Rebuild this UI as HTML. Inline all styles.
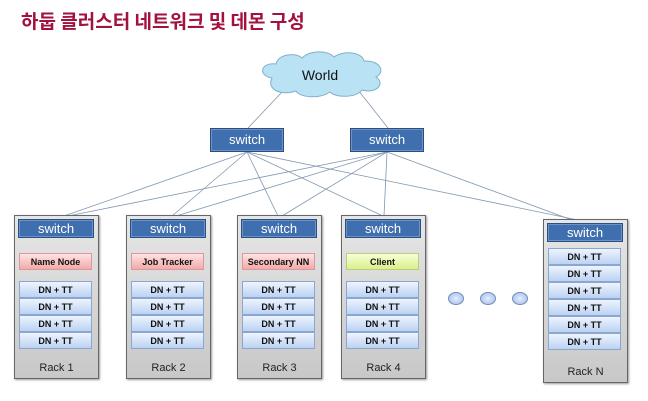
<!DOCTYPE html>
<html><head><meta charset="utf-8"><style>
body{margin:0;background:#fff;width:648px;height:401px;position:relative;overflow:hidden;font-family:"Liberation Sans","Noto Sans CJK KR",sans-serif}
.t{position:absolute;left:21px;top:7px;font-size:19px;font-weight:bold;color:#a3123f;font-family:"Noto Sans CJK KR","NanumGothic",sans-serif;white-space:nowrap}
.rack{position:absolute;background:linear-gradient(#e6e6e6,#c8c8c8);border:1px solid #666;box-shadow:1px 1px 2px #999}
.sw{position:absolute;background:#3f6fae;border:1px solid #2b4f80;color:#fff;text-align:center;font-size:13px;box-shadow:inset 0 0 0 1px #6d92c4}
.box{position:absolute;left:4px;width:73px;height:17px;border:1px solid #8aa7d0;background:linear-gradient(#eef4ff,#bcd2f2);font-size:9px;font-weight:bold;text-align:center;line-height:17px;color:#111;box-sizing:border-box}
.lab{position:absolute;left:0;width:100%;text-align:center;font-size:11px;color:#222}
.dot{position:absolute;width:14px;height:11px;border-radius:50%;background:radial-gradient(#e4eeff,#9fbbe6);border:1px solid #6f8fbf}
</style></head><body>
<div class="t">하둡 클러스터 네트워크 및 데몬 구성</div>
<svg width="648" height="401" style="position:absolute;left:0;top:0">
<g stroke="#7f97b0" stroke-width="0.8" fill="none">
<line x1="282" y1="92" x2="248" y2="128"/><line x1="358" y1="90" x2="388" y2="128"/>
<line x1="247" y1="152" x2="64" y2="216"/><line x1="247" y1="152" x2="172" y2="216"/><line x1="247" y1="152" x2="278" y2="216"/><line x1="247" y1="152" x2="383" y2="216"/><line x1="247" y1="152" x2="578" y2="220"/>
<line x1="387" y1="152" x2="68" y2="216"/><line x1="387" y1="152" x2="176" y2="216"/><line x1="387" y1="152" x2="282" y2="216"/><line x1="387" y1="152" x2="384" y2="216"/><line x1="387" y1="152" x2="572" y2="220"/>
</g>
<path d="M272 78 C258 76 260 62 276 64 C278 54 296 52 302 58 C310 50 328 50 334 57 C344 50 362 52 364 61 C380 60 386 72 376 77 C386 84 376 94 362 90 C356 98 336 98 330 92 C320 99 300 98 296 91 C282 96 266 90 272 78Z" fill="#b9e2f5" stroke="#7fb0cc"/>
<text x="320" y="80" font-size="14" text-anchor="middle" font-family="Liberation Sans" fill="#111">World</text>
</svg>
<div class="sw" style="left:210px;top:128px;width:72px;height:22px;line-height:22px">switch</div>
<div class="sw" style="left:350px;top:128px;width:72px;height:22px;line-height:22px">switch</div>

<div class="rack" style="left:14px;top:215px;width:83px;height:162px">
<div class="sw" style="left:3px;top:3px;width:74px;height:17px;line-height:17px">switch</div>
<div class="box" style="top:37px;background:linear-gradient(#ffe4e4,#f3a9a9);border-color:#d99">Name Node</div>
<div class="box" style="top:65px">DN + TT</div><div class="box" style="top:82px">DN + TT</div><div class="box" style="top:99px">DN + TT</div><div class="box" style="top:116px">DN + TT</div>
<div class="lab" style="top:146px">Rack 1</div></div>

<div class="rack" style="left:126px;top:215px;width:83px;height:162px">
<div class="sw" style="left:3px;top:3px;width:74px;height:17px;line-height:17px">switch</div>
<div class="box" style="top:37px;background:linear-gradient(#ffe4e4,#f3a9a9);border-color:#d99">Job Tracker</div>
<div class="box" style="top:65px">DN + TT</div><div class="box" style="top:82px">DN + TT</div><div class="box" style="top:99px">DN + TT</div><div class="box" style="top:116px">DN + TT</div>
<div class="lab" style="top:146px">Rack 2</div></div>

<div class="rack" style="left:237px;top:215px;width:83px;height:162px">
<div class="sw" style="left:3px;top:3px;width:74px;height:17px;line-height:17px">switch</div>
<div class="box" style="top:37px;background:linear-gradient(#ffe4e4,#f3a9a9);border-color:#d99">Secondary NN</div>
<div class="box" style="top:65px">DN + TT</div><div class="box" style="top:82px">DN + TT</div><div class="box" style="top:99px">DN + TT</div><div class="box" style="top:116px">DN + TT</div>
<div class="lab" style="top:146px">Rack 3</div></div>

<div class="rack" style="left:341px;top:215px;width:83px;height:162px">
<div class="sw" style="left:3px;top:3px;width:74px;height:17px;line-height:17px">switch</div>
<div class="box" style="top:37px;background:linear-gradient(#f8ffd8,#d8f08a);border-color:#b9cf7a">Client</div>
<div class="box" style="top:65px">DN + TT</div><div class="box" style="top:82px">DN + TT</div><div class="box" style="top:99px">DN + TT</div><div class="box" style="top:116px">DN + TT</div>
<div class="lab" style="top:146px">Rack 4</div></div>

<div class="dot" style="left:448px;top:292px"></div><div class="dot" style="left:480px;top:292px"></div><div class="dot" style="left:512px;top:292px"></div>

<div class="rack" style="left:543px;top:219px;width:83px;height:162px">
<div class="sw" style="left:3px;top:3px;width:74px;height:17px;line-height:17px">switch</div>
<div class="box" style="top:28px">DN + TT</div><div class="box" style="top:45px">DN + TT</div><div class="box" style="top:62px">DN + TT</div><div class="box" style="top:79px">DN + TT</div><div class="box" style="top:96px">DN + TT</div><div class="box" style="top:113px">DN + TT</div>
<div class="lab" style="top:146px">Rack N</div></div>
</body></html>
